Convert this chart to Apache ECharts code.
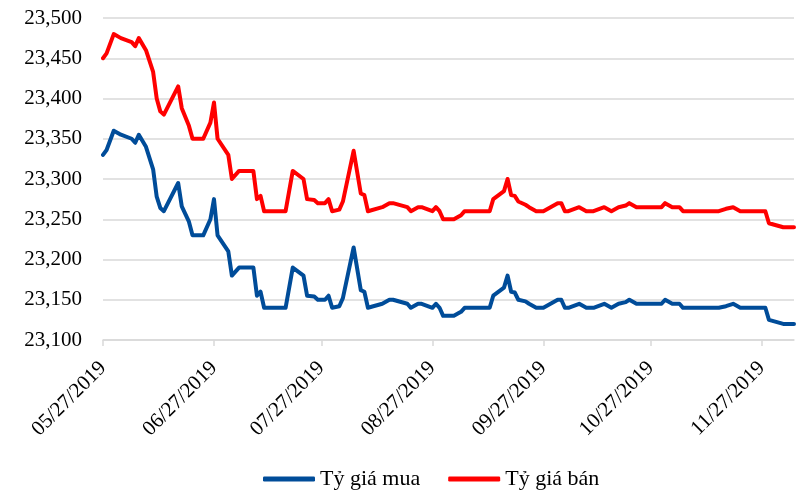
<!DOCTYPE html>
<html>
<head>
<meta charset="utf-8">
<script src="https://cdn.jsdelivr.net/npm/echarts@6/dist/echarts.min.js"></script>
<style>
  html, body { margin: 0; padding: 0; background: #fff; }
  #chart { width: 797px; height: 493px; }
</style>
</head>
<body>
<div id="chart"></div>
<script>
const obsDates = [
  '05/27/2019','05/28/2019','05/30/2019','06/01/2019','06/04/2019','06/05/2019','06/06/2019','06/08/2019',
  '06/10/2019','06/11/2019','06/12/2019','06/13/2019','06/17/2019','06/18/2019','06/20/2019','06/21/2019',
  '06/24/2019','06/26/2019','06/27/2019','06/28/2019','07/01/2019','07/02/2019','07/04/2019','07/08/2019',
  '07/09/2019','07/10/2019','07/11/2019','07/17/2019','07/19/2019','07/22/2019','07/23/2019','07/25/2019',
  '07/26/2019','07/28/2019','07/29/2019','07/30/2019','08/01/2019','08/02/2019','08/05/2019','08/07/2019',
  '08/08/2019','08/09/2019','08/13/2019','08/15/2019','08/16/2019','08/20/2019','08/21/2019','08/23/2019',
  '08/24/2019','08/27/2019','08/28/2019','08/29/2019','08/30/2019','09/02/2019','09/04/2019','09/05/2019',
  '09/12/2019','09/13/2019','09/16/2019','09/17/2019','09/18/2019','09/19/2019','09/20/2019','09/22/2019',
  '09/23/2019','09/25/2019','09/27/2019','09/29/2019','10/01/2019','10/02/2019','10/03/2019','10/04/2019',
  '10/07/2019','10/09/2019','10/11/2019','10/14/2019','10/16/2019','10/18/2019','10/20/2019','10/21/2019',
  '10/23/2019','10/30/2019','10/31/2019','11/02/2019','11/04/2019','11/05/2019','11/15/2019','11/17/2019',
  '11/19/2019','11/21/2019','11/28/2019','11/29/2019','12/03/2019','12/06/2019'
];
const buyRate = [
  23330,23336,23360,23355,23350,23345,23355,23340,
  23312,23278,23264,23260,23295,23266,23247,23230,
  23230,23250,23275,23230,23210,23180,23190,23190,
  23155,23160,23140,23140,23190,23180,23155,23154,
  23150,23150,23155,23140,23142,23152,23215,23162,
  23160,23140,23145,23150,23150,23145,23140,23145,
  23145,23140,23145,23140,23130,23130,23135,23140,
  23140,23155,23165,23180,23160,23159,23150,23148,
  23145,23140,23140,23145,23150,23150,23140,23140,
  23145,23140,23140,23145,23140,23145,23147,23150,
  23145,23145,23150,23145,23145,23140,23140,23142,
  23145,23140,23140,23125,23120,23120
];
const sellRate = [
  23450,23456,23480,23475,23470,23465,23475,23460,
  23433,23400,23384,23380,23415,23388,23366,23350,
  23350,23370,23395,23350,23330,23300,23310,23310,
  23275,23279,23260,23260,23310,23300,23275,23274,
  23270,23270,23275,23260,23262,23272,23335,23282,
  23280,23260,23265,23270,23270,23265,23260,23265,
  23265,23260,23265,23260,23250,23250,23255,23260,
  23260,23275,23285,23300,23280,23279,23272,23268,
  23265,23260,23260,23265,23270,23270,23260,23260,
  23265,23260,23260,23265,23260,23265,23267,23270,
  23265,23265,23270,23265,23265,23260,23260,23263,
  23265,23260,23260,23245,23240,23240
];
const seriesNames = ['Tỷ giá mua', 'Tỷ giá bán'];
const startDate = '05/27/2019';
const endDate = '12/06/2019';

function fmt(d) {
  const m = String(d.getUTCMonth() + 1).padStart(2, '0');
  const day = String(d.getUTCDate()).padStart(2, '0');
  return m + '/' + day + '/' + d.getUTCFullYear();
}
function parse(s) {
  const p = s.split('/');
  return new Date(Date.UTC(+p[2], +p[0] - 1, +p[1]));
}

// one category per calendar day, like a date axis
const categories = [];
for (let d = parse(startDate); d <= parse(endDate); d = new Date(d.getTime() + 86400000)) {
  categories.push(fmt(d));
}
function toSeries(vals) {
  const out = categories.map(() => null);
  obsDates.forEach((s, i) => { out[categories.indexOf(s)] = vals[i]; });
  return out;
}

const font = 'Liberation Serif, Times New Roman, serif';
const gridColor = '#D9D9D9';
const isTick = (idx, val) => val.slice(3, 5) === '27';

const chart = echarts.init(document.getElementById('chart'));
chart.setOption({
  animation: false,
  color: ['#004C99', '#FF0000'],
  grid: { left: 103, right: 3, top: 18, bottom: 153 },
  legend: {
    data: seriesNames,
    left: 258,
    top: 463,
    icon: 'roundRect',
    itemWidth: 52,
    itemHeight: 5,
    itemGap: 28,
    textStyle: { fontFamily: font, fontSize: 22, color: '#000' }
  },
  xAxis: {
    type: 'category',
    boundaryGap: false,
    data: categories,
    axisLine: { lineStyle: { color: gridColor, width: 1.5 } },
    axisTick: { show: true, interval: isTick, length: 6, lineStyle: { color: gridColor, width: 1.5 } },
    axisLabel: { interval: isTick, rotate: 45, margin: 25, fontFamily: font, fontSize: 21, color: '#000' },
    splitLine: { show: false }
  },
  yAxis: {
    type: 'value',
    min: 23100,
    max: 23500,
    interval: 50,
    axisLine: { show: false },
    axisTick: { show: false },
    axisLabel: {
      margin: 21,
      fontFamily: font,
      fontSize: 21,
      color: '#000',
      formatter: v => v.toLocaleString('en-US')
    },
    splitLine: { lineStyle: { color: gridColor, width: 1.5 } }
  },
  series: [
    {
      name: seriesNames[0],
      type: 'line',
      data: toSeries(buyRate),
      connectNulls: true,
      showSymbol: false,
      symbol: 'none',
      lineStyle: { width: 4, join: 'round', cap: 'round' }
    },
    {
      name: seriesNames[1],
      type: 'line',
      data: toSeries(sellRate),
      connectNulls: true,
      showSymbol: false,
      symbol: 'none',
      lineStyle: { width: 4, join: 'round', cap: 'round' }
    }
  ]
});
</script>
</body>
</html>
